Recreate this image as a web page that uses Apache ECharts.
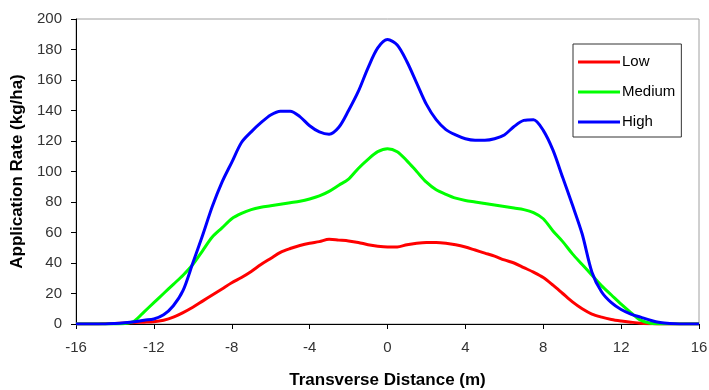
<!DOCTYPE html>
<html>
<head>
<meta charset="utf-8">
<script src="https://cdn.jsdelivr.net/npm/echarts@6/dist/echarts.min.js"></script>
<style>
html,body{margin:0;padding:0;background:#fff;}
#chart{width:709px;height:390px;}
</style>
</head>
<body>
<div id="chart"></div>
<script>
var distance = [-16,-15.5,-15,-14.5,-14,-13.5,-13,-12.5,-12,-11.5,-11,-10.5,-10,-9.5,-9,-8.5,-8,-7.5,-7,-6.5,-6,-5.5,-5,-4.5,-4,-3.5,-3,-2.5,-2,-1.5,-1,-0.5,0,0.5,1,1.5,2,2.5,3,3.5,4,4.5,5,5.5,6,6.5,7,7.5,8,8.5,9,9.5,10,10.5,11,11.5,12,12.5,13,13.5,14,14.5,15,15.5,16];
var low = [0,0,0,0.2,0.4,0.7,1,1.2,1.5,2.5,4.5,7.5,11,15,19,23,27,30.5,34.5,39,43,47,49.5,51.5,53,54,55.5,55,54.5,53.5,52,51,50.5,50.5,52,53,53.5,53.5,53,52,50.5,48.5,46.5,44.5,42,40,37,34,30.5,25.5,20,14.5,10,6.5,4.5,3,2,1.2,0.5,0.2,0,0,0,0,0];
var medium = [0,0,0,0,0,0.3,2,8,14,20,26,32,39,48,57,63,69,72.5,75,76.5,77.5,78.5,79.5,80.5,82,84,87,91,95,102,108,113,115,113,107,100,93,88,85,82.5,81,80,79,78,77,76,75,73,69,61,54,46,39,32,25,19,13,7.5,2.5,0.5,0,0,0,0,0];
var high = [0,0,0,0,0.3,0.8,1.5,2.5,3.3,6,12,22,40,58,77,93,106,119,126,132,137,139.5,139.5,136,130,126,124.5,129,140,152.5,168,181,186.5,183,172,158,144,134,127.5,124,121.5,120.5,120.5,121.5,124,129.5,133.5,134,127,114,96,78,59,34,21,14,9.5,6.5,4.5,2.5,1,0.3,0,0,0];
var xTicks = [-16,-12,-8,-4,0,4,8,12,16];
var yTicks = [0,20,40,60,80,100,120,140,160,180,200];
var seriesNames = ['Low','Medium','High'];
var seriesColors = ['#FF0000','#00FF00','#0000FF'];

function pairs(ys){ return distance.map(function(x,i){ return [x, ys[i]]; }); }
var allData = [low, medium, high];

var font = '"Liberation Sans", Arial, sans-serif';
var chart = echarts.init(document.getElementById('chart'), null, {renderer:'canvas'});
chart.setOption({
  animation:false,
  backgroundColor:'#fff',
  grid:{left:76, top:19, right:10, bottom:66, outerBoundsMode:'none', containLabel:false, show:true, borderColor:'#a0a0a0', borderWidth:1, backgroundColor:'transparent'},
  legend:{
    orient:'vertical', left:573, top:44,
    padding:[10,6,7,5], itemGap:14, itemWidth:42, itemHeight:3,
    icon:'rect',
    backgroundColor:'#fff', borderColor:'#333', borderWidth:1,
    textStyle:{fontFamily:font, fontSize:15, lineHeight:16, color:'#000', padding:[0,0,0,-3]},
    data:seriesNames
  },
  xAxis:{
    type:'value', min:xTicks[0], max:xTicks[xTicks.length-1], interval:4,
    name:'Transverse Distance (m)', nameLocation:'middle', nameGap:48,
    nameTextStyle:{fontFamily:font, fontSize:17, fontWeight:'bold', color:'#000'},
    axisLine:{show:true, onZero:false, lineStyle:{color:'#000', width:1}},
    axisTick:{show:true, length:5, inside:false, lineStyle:{color:'#000'}},
    axisLabel:{fontFamily:font, fontSize:15, color:'#333', margin:16},
    splitLine:{show:false}
  },
  yAxis:{
    type:'value', min:yTicks[0], max:yTicks[yTicks.length-1], interval:20,
    name:'Application Rate (kg/ha)', nameLocation:'middle', nameGap:45,
    nameTextStyle:{fontFamily:font, fontSize:17, fontWeight:'bold', color:'#000'},
    axisLine:{show:true, onZero:false, lineStyle:{color:'#000', width:1}},
    axisTick:{show:true, length:5, inside:false, lineStyle:{color:'#000'}},
    axisLabel:{fontFamily:font, fontSize:15, color:'#333', margin:14},
    splitLine:{show:false}
  },
  series: seriesNames.map(function(n,i){
    return {
      name:n, type:'line', data:pairs(allData[i]),
      smooth:0.3, symbol:'none', showSymbol:false,
      lineStyle:{color:seriesColors[i], width:3},
      itemStyle:{color:seriesColors[i]},
      z: 2+i
    };
  })
});
</script>
</body>
</html>
